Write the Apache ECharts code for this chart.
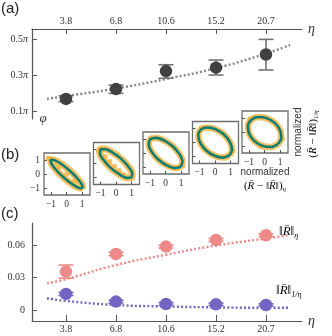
<!DOCTYPE html>
<html><head><meta charset="utf-8">
<script src="https://cdn.jsdelivr.net/npm/echarts@6/dist/echarts.min.js"></script>
<style>html,body{margin:0;padding:0;background:#fff}#c{width:332px;height:336px}</style>
</head><body><div id="c"></div>
<script>
// ---- data ----
const etaLabels = ['3.8', '6.8', '10.6', '15.2', '20.7'];
const etaIndex = [0, 1, 2, 3, 4];

// panel (a): phase phi in units of pi
const phiMean = [0.167, 0.222, 0.322, 0.341, 0.414];
const phiLow = [0.152, 0.198, 0.282, 0.300, 0.328];
const phiHigh = [0.185, 0.244, 0.357, 0.383, 0.498];
const phiFitX = [-0.38, 0, 1, 2, 3, 4, 4.48];
const phiFitY = [0.167, 0.183, 0.225, 0.278, 0.338, 0.419, 0.467];
const phiTicks = [0.1, 0.3, 0.5];

// panel (b): fitted ellipses (normalized units)
const ellipse1 = [[1.02,-1.02],[0.99,-0.78],[0.70,-0.32],[0.22,0.22],[-0.32,0.70],[-0.78,0.99],[-1.02,1.02],[-0.99,0.78],[-0.70,0.32],[-0.22,-0.22],[0.32,-0.70],[0.78,-0.99],[1.02,-1.02]];
const ellipse2 = [[1.0,-1.0],[1.03,-0.70],[0.78,-0.22],[0.33,0.33],[-0.22,0.78],[-0.70,1.03],[-1.0,1.0],[-1.03,0.70],[-0.78,0.22],[-0.33,-0.33],[0.22,-0.78],[0.70,-1.03],[1.0,-1.0]];
const ellipse3 = [[0.98,-0.98],[1.08,-0.61],[0.89,-0.08],[0.47,0.47],[-0.08,0.89],[-0.61,1.08],[-0.98,0.98],[-1.08,0.61],[-0.89,0.08],[-0.47,-0.47],[0.08,-0.89],[0.61,-1.08],[0.98,-0.98]];
const ellipse4 = [[0.92,-0.92],[1.08,-0.51],[0.95,0.03],[0.57,0.57],[0.03,0.95],[-0.51,1.08],[-0.92,0.92],[-1.08,0.51],[-0.95,-0.03],[-0.57,-0.57],[-0.03,-0.95],[0.51,-1.08],[0.92,-0.92]];
const ellipse5 = [[0.86,-0.86],[1.07,-0.42],[0.99,0.13],[0.65,0.65],[0.13,0.99],[-0.42,1.07],[-0.86,0.86],[-1.07,0.42],[-0.99,-0.13],[-0.65,-0.65],[-0.13,-0.99],[0.42,-1.07],[0.86,-0.86]];
// extra sample points outside the main band
const cloud1 = [[-1.1,1.1],[-1.2,1.15],[-1.0,1.08],[-0.9,1.0],[1.05,-0.95],[0.5,-0.5],[-0.5,0.5],[0,0]];
const cloud2 = [[-1.1,1.0],[-1.15,0.9],[-0.95,1.1],[-0.7,0.5],[-0.4,0.15],[-0.1,-0.2],[0.2,-0.5],[0.5,-0.8],[1.05,-1.05]];
const cloud3 = [[-0.95,1.05],[1.1,-0.95]];
const cloud4 = [[-0.9,1.05],[1.15,-0.6]];
const cloud5 = [[-0.95,0.95],[1.15,-0.5],[-0.2,-1.05]];
const boxTicks = [-1, 0, 1];

// panel (c)
const normEta = [0.0354, 0.0517, 0.0585, 0.0646, 0.0690];
const normEtaLow = [0.0293, 0.0502, 0.0572, 0.0633, 0.0677];
const normEtaHigh = [0.0415, 0.0532, 0.0598, 0.0659, 0.0703];
const normInv = [0.0148, 0.0077, 0.0055, 0.0052, 0.0046];
const normInvLow = [0.0134, 0.0064, 0.0043, 0.0041, 0.0036];
const normInvHigh = [0.0162, 0.0090, 0.0067, 0.0063, 0.0056];
const fitXc = [-0.38, 0, 1, 2, 3, 4, 4.44];
const normEtaFit = [0.0246, 0.0285, 0.0415, 0.0510, 0.0595, 0.0660, 0.0690];
const normInvFit = [0.0108, 0.0083, 0.0046, 0.0032, 0.0024, 0.0020, 0.0020];
const normTicks = [0, 0.03, 0.06];

// ---- styles ----
const SERIF = "'Liberation Serif','DejaVu Serif',serif";
const SANS = "'Liberation Sans',Arial,sans-serif";
const AX = '#555';
const ORANGE = '#f2b548', TEAL = '#0f7c70';
const PINK = '#ec8a8a', PURPLE = '#7565c3', DARK = '#404040', GREY = '#747474';

function errRender(color, cap) {
  return function (params, api) {
    const x = api.value(0);
    const lo = api.coord([x, api.value(1)]);
    const hi = api.coord([x, api.value(2)]);
    const st = { stroke: color, lineWidth: 1.6 };
    return { type: 'group', children: [
      { type: 'line', shape: { x1: lo[0], y1: lo[1], x2: hi[0], y2: hi[1] }, style: st },
      { type: 'line', shape: { x1: lo[0] - cap, y1: lo[1], x2: lo[0] + cap, y2: lo[1] }, style: st },
      { type: 'line', shape: { x1: hi[0] - cap, y1: hi[1], x2: hi[0] + cap, y2: hi[1] }, style: st }
    ] };
  };
}
const lbl = { fontFamily: SERIF, fontSize: 10, color: '#333' };
const etaName = { fontFamily: SERIF, fontStyle: 'italic', fontSize: 14, color: '#333' };

const grids = [], xAxes = [], yAxes = [], series = [];

// panel (a)
grids.push({ left: 32, top: 29, width: 270, height: 90 });
xAxes.push({ gridIndex: 0, type: 'value', position: 'top', min: -0.68, max: 4.72,
  axisLine: { onZero: false, lineStyle: { color: AX, width: 1.2 } },
  axisTick: { inside: true, length: 5, customValues: etaIndex, lineStyle: { color: AX } },
  axisLabel: Object.assign({ customValues: etaIndex, margin: 3, formatter: v => etaLabels[Math.round(v)] }, lbl),
  splitLine: { show: false }, name: 'η', nameLocation: 'end', nameGap: 6, nameTextStyle: etaName });
yAxes.push({ gridIndex: 0, type: 'value', min: 0.0556, max: 0.5556,
  axisLine: { show: true, onZero: false, lineStyle: { color: AX, width: 1.2 } },
  axisTick: { show: true, inside: true, length: 5, customValues: phiTicks, lineStyle: { color: AX } },
  axisLabel: { customValues: phiTicks, margin: 4, formatter: v => '{n|' + v + '}{p|π}',
    rich: { n: lbl, p: { fontFamily: SERIF, fontStyle: 'italic', fontSize: 10, color: '#333' } } },
  splitLine: { show: false } });
series.push({ type: 'line', xAxisIndex: 0, yAxisIndex: 0, smooth: true, showSymbol: false, z: 1,
  data: phiFitX.map((x, i) => [x, phiFitY[i]]),
  lineStyle: { color: '#858585', width: 2.4, type: [2, 2.2] } });
series.push({ type: 'custom', xAxisIndex: 0, yAxisIndex: 0, z: 2, renderItem: errRender(GREY, 7.5),
  encode: { x: 0, y: [1, 2] }, data: etaIndex.map(i => [i, phiLow[i], phiHigh[i]]) });
series.push({ type: 'scatter', xAxisIndex: 0, yAxisIndex: 0, z: 3, symbolSize: 12.5,
  itemStyle: { color: DARK, opacity: 1 }, data: etaIndex.map(i => [i, phiMean[i]]) });

// panel (b)
const ellipses = [ellipse1, ellipse2, ellipse3, ellipse4, ellipse5];
const clouds = [cloud1, cloud2, cloud3, cloud4, cloud5];
for (let k = 0; k < 5; k++) {
  const gi = k + 1;
  grids.push({ left: 44 + 49.5 * k, top: 153 - 10.5 * k, width: 46, height: 42,
    show: true, borderColor: '#6e6e6e', borderWidth: 1.3, backgroundColor: 'transparent' });
  xAxes.push({ gridIndex: gi, type: 'value', min: -1.45, max: 1.5,
    axisLine: { show: false, onZero: false },
    axisTick: { show: true, inside: true, length: 3, customValues: boxTicks, lineStyle: { color: AX } },
    axisLabel: Object.assign({ customValues: boxTicks, margin: 4, formatter: v => v < 0 ? '−' + (-v) : String(v) }, lbl, { fontSize: 9.5 }),
    splitLine: { show: false } });
  yAxes.push({ gridIndex: gi, type: 'value', min: -1.5, max: 1.5,
    axisLine: { show: false, onZero: false },
    axisTick: { show: true, inside: true, length: 3, customValues: boxTicks, lineStyle: { color: AX } },
    axisLabel: Object.assign({ show: k === 0, customValues: boxTicks, margin: 4, formatter: v => v < 0 ? '−' + (-v) : String(v) }, lbl, { fontSize: 9.5 }),
    splitLine: { show: false } });
  series.push({ type: 'line', xAxisIndex: gi, yAxisIndex: gi, smooth: 0.3, showSymbol: false, z: 1,
    data: ellipses[k], lineStyle: { color: ORANGE, width: k < 2 ? 7 : 6.5, opacity: 0.85 } });
  series.push({ type: 'scatter', xAxisIndex: gi, yAxisIndex: gi, z: 1, symbolSize: 5,
    itemStyle: { color: ORANGE, opacity: 0.85 }, data: clouds[k] });
  series.push({ type: 'line', xAxisIndex: gi, yAxisIndex: gi, smooth: 0.3, showSymbol: false, z: 2,
    data: ellipses[k], lineStyle: { color: TEAL, width: 2.6 } });
}

// panel (c)
grids.push({ left: 32, top: 223, width: 270, height: 98 });
xAxes.push({ gridIndex: 6, type: 'value', position: 'bottom', min: -0.68, max: 4.72,
  axisLine: { onZero: false, lineStyle: { color: AX, width: 1.2 } },
  axisTick: { inside: true, length: 6, customValues: etaIndex, lineStyle: { color: AX } },
  axisLabel: Object.assign({ customValues: etaIndex, margin: 3, formatter: v => etaLabels[Math.round(v)] }, lbl),
  splitLine: { show: false }, name: 'η', nameLocation: 'end', nameGap: 6,
  nameTextStyle: Object.assign({ padding: [0, 0, 6, 0] }, etaName) });
yAxes.push({ gridIndex: 6, type: 'value', min: -0.0102, max: 0.0803,
  axisLine: { show: true, onZero: false, lineStyle: { color: AX, width: 1.2 } },
  axisTick: { show: true, inside: true, length: 5, customValues: normTicks, lineStyle: { color: AX } },
  axisLabel: Object.assign({ customValues: normTicks, margin: 7, formatter: v => v === 0 ? '0' : v.toFixed(2) }, lbl),
  splitLine: { show: false } });
series.push({ type: 'line', xAxisIndex: 6, yAxisIndex: 6, smooth: true, showSymbol: false, z: 1,
  data: fitXc.map((x, i) => [x, normEtaFit[i]]), lineStyle: { color: PINK, width: 2.4, type: [2, 2.2] } });
series.push({ type: 'line', xAxisIndex: 6, yAxisIndex: 6, smooth: true, showSymbol: false, z: 1,
  data: fitXc.map((x, i) => [x, normInvFit[i]]), lineStyle: { color: PURPLE, width: 2.4, type: [2, 2.2] } });
series.push({ type: 'custom', xAxisIndex: 6, yAxisIndex: 6, z: 2, renderItem: errRender(PINK, 7.5),
  encode: { x: 0, y: [1, 2] }, data: etaIndex.map(i => [i, normEtaLow[i], normEtaHigh[i]]) });
series.push({ type: 'custom', xAxisIndex: 6, yAxisIndex: 6, z: 2, renderItem: errRender(PURPLE, 7.5),
  encode: { x: 0, y: [1, 2] }, data: etaIndex.map(i => [i, normInvLow[i], normInvHigh[i]]) });
series.push({ type: 'scatter', xAxisIndex: 6, yAxisIndex: 6, z: 3, symbolSize: 12.5,
  itemStyle: { color: PINK, opacity: 1 }, data: etaIndex.map(i => [i, normEta[i]]) });
series.push({ type: 'scatter', xAxisIndex: 6, yAxisIndex: 6, z: 3, symbolSize: 12.5,
  itemStyle: { color: PURPLE, opacity: 1 }, data: etaIndex.map(i => [i, normInv[i]]) });

// ---- text ----
const richMath = {
  t: { fontFamily: SERIF, fontSize: 11, color: '#333', lineHeight: 14 },
  i: { fontFamily: SERIF, fontStyle: 'italic', fontSize: 11, color: '#333', lineHeight: 14 },
  s: { fontFamily: SERIF, fontStyle: 'italic', fontSize: 7, color: '#333', lineHeight: 8, padding: [6, 0, 0, 0] }
};
const richBig = {
  t: { fontFamily: SERIF, fontSize: 13, color: '#333', lineHeight: 16 },
  i: { fontFamily: SERIF, fontStyle: 'italic', fontSize: 13, color: '#333', lineHeight: 16 },
  s: { fontFamily: SERIF, fontStyle: 'italic', fontSize: 8, color: '#333', lineHeight: 9, padding: [7, 0, 0, 0] }
};
const diffEta = '{t|(}{i|R̄}{t| − ‖}{i|R̄}{t|‖)}{s|η}';
const diffInv = '{t|(}{i|R̄}{t| − ‖}{i|R̄}{t|‖)}{s|1/η}';
const graphic = [
  { type: 'text', left: 1, top: 1, style: { text: '(a)', font: '15px ' + SANS, fill: '#222' } },
  { type: 'text', left: 1, top: 147, style: { text: '(b)', font: '15px ' + SANS, fill: '#222' } },
  { type: 'text', left: 1, top: 206, style: { text: '(c)', font: '15px ' + SANS, fill: '#222' } },
  { type: 'text', x: 43, y: 119, style: { text: 'φ', fontFamily: SERIF, fontStyle: 'italic', fontSize: 13, fill: '#333', align: 'center', verticalAlign: 'middle' } },
  { type: 'text', x: 265, y: 172, style: { text: 'normalized', fontFamily: SANS, fontSize: 10, fill: '#333', align: 'center', verticalAlign: 'middle' } },
  { type: 'text', x: 265, y: 186, style: { text: diffEta, rich: richMath, align: 'center', verticalAlign: 'middle' } },
  { type: 'text', x: 298, y: 132, rotation: Math.PI / 2, style: { text: 'normalized', fontFamily: SANS, fontSize: 10, fill: '#333', align: 'center', verticalAlign: 'middle' } },
  { type: 'text', x: 313, y: 134, rotation: Math.PI / 2, style: { text: diffInv, rich: richMath, align: 'center', verticalAlign: 'middle' } },
  { type: 'text', x: 279, y: 232, style: { text: '{t|‖}{i|R̄}{t|‖}{s|η}', rich: richBig, align: 'left', verticalAlign: 'middle' } },
  { type: 'text', x: 276, y: 291, style: { text: '{t|‖}{i|R̄}{t|‖}{s|1/η}', rich: richBig, align: 'left', verticalAlign: 'middle' } }
];

const chart = echarts.init(document.getElementById('c'), null, { renderer: 'canvas' });
chart.setOption({ animation: false, backgroundColor: '#fff', grid: grids, xAxis: xAxes, yAxis: yAxes, series: series, graphic: graphic });
</script></body></html>
